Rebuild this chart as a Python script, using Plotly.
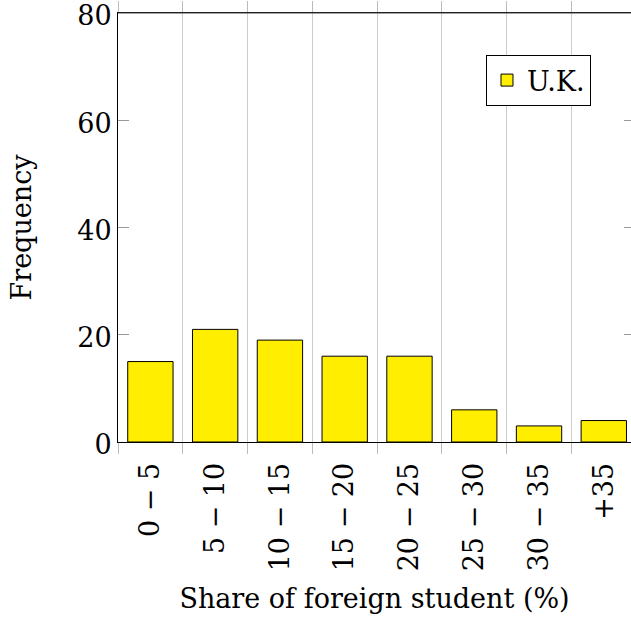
import plotly.graph_objects as go

categories = ["0 − 5", "5 − 10", "10 − 15", "15 − 20", "20 − 25", "25 − 30", "30 − 35", "+35"]
uk_values = [15, 21, 19, 16, 16, 6, 3, 4]
y_ticks = [0, 20, 40, 60, 80]

FONT = "DejaVu Serif"
FS = 27
fig = go.Figure()
fig.add_trace(go.Bar(
    x=categories, y=uk_values, name="U.K.", width=0.7,
    marker=dict(color="#FFEE00", line=dict(color="black", width=1)),
    showlegend=True,
))
# invisible helper trace for right-side y ticks
fig.add_trace(go.Scatter(x=[categories[0]], y=[0], yaxis="y2", mode="markers",
                         marker=dict(opacity=0), showlegend=False, hoverinfo="skip"))

fig.update_layout(
    width=631, height=620,
    margin=dict(l=118, r=0, t=13, b=178, autoexpand=False),
    plot_bgcolor="white", paper_bgcolor="white",
    font=dict(family=FONT, size=FS, color="black"),
    xaxis=dict(
        type="category", range=[-0.5, 7.42], automargin=False,
        tickson="boundaries", ticks="outside", ticklen=11, tickcolor="#bbbbbb",
        showgrid=True, gridcolor="#cccccc", gridwidth=1,
        showline=True, linecolor="black", linewidth=1, mirror="allticks",
        tickangle=-90, tickfont=dict(size=FS), ticklabeloverflow="allow",
        ticklabelstandoff=9,
        title=dict(text="Share of foreign student (%)", font=dict(size=FS), standoff=18),
    ),
    yaxis=dict(
        range=[0, 80], tickvals=y_ticks, ticks="inside", ticklen=11, tickcolor="#999999",
        showgrid=False, zeroline=False, automargin=False, ticklabeloverflow="allow",
        showline=True, linecolor="black", linewidth=1, ticklabelshift=3,
        tickfont=dict(size=FS),
        title=dict(text="Frequency", font=dict(size=FS), standoff=37),
    ),
    yaxis2=dict(
        range=[0, 80], tickvals=y_ticks, ticks="inside", ticklen=7, tickcolor="#999999",
        overlaying="y", side="right", showticklabels=False, showgrid=False,
        zeroline=False, showline=False, automargin=False,
    ),
    legend=dict(
        x=0.922, y=0.902, xanchor="right", yanchor="top",
        bordercolor="black", borderwidth=1, bgcolor="white",
        font=dict(size=FS), itemwidth=30,
    ),
    bargap=0.3,
    shapes=[dict(type="line", xref="paper", yref="paper", x0=0, x1=1, y0=1, y1=1,
                 line=dict(color="#444444", width=1))],
)

fig.write_html("out.html", config={"displayModeBar": False},
               post_script="document.body.style.margin='0';document.body.style.overflow='hidden';")
